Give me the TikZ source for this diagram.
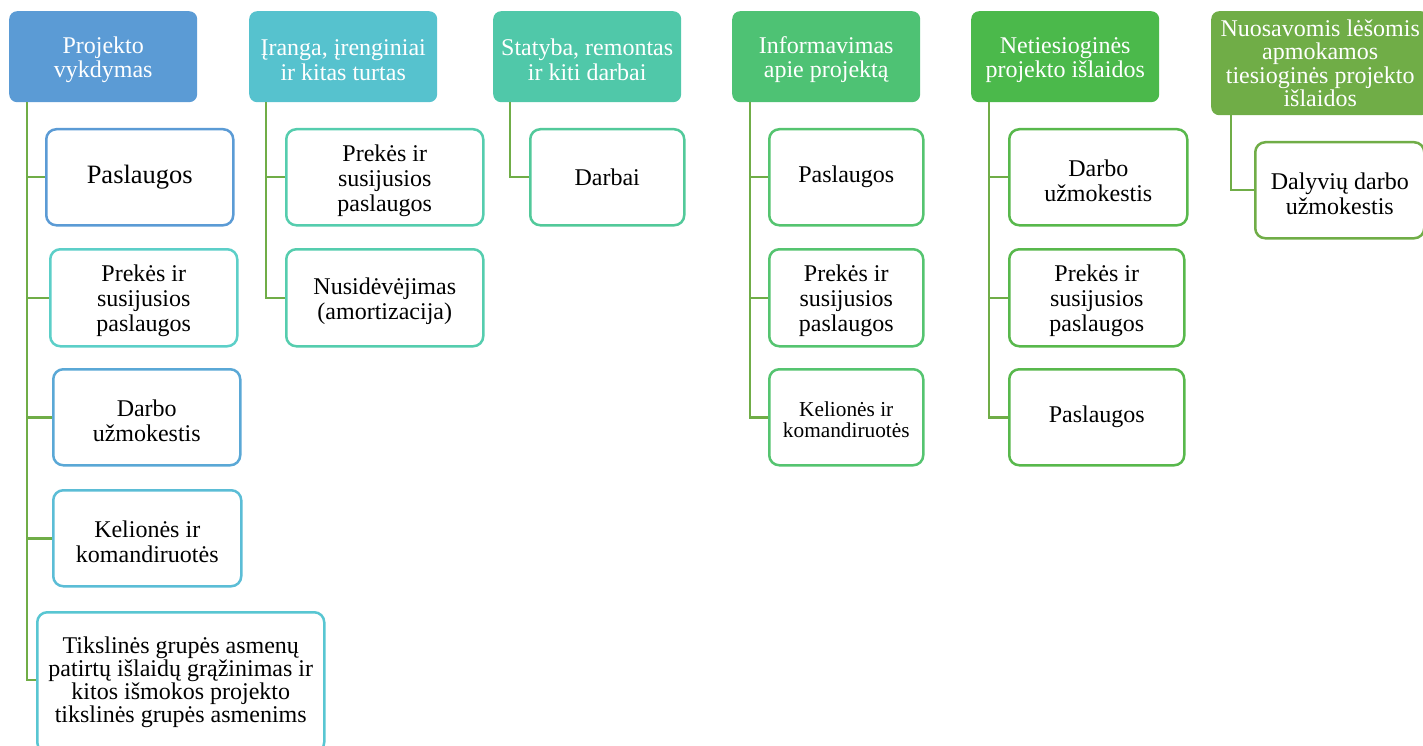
\documentclass[tikz,border=0pt]{standalone}
\usepackage{fontspec}
\setmainfont{Liberation Serif}
\definecolor{hblue}{HTML}{5B9BD5}
\definecolor{hcyan}{HTML}{56C2CE}
\definecolor{hsea}{HTML}{50C8A9}
\definecolor{hmint}{HTML}{4EC274}
\definecolor{hgreen}{HTML}{4BB94B}
\definecolor{holive}{HTML}{70AD47}
\definecolor{bteal}{HTML}{5CCFC8}
\definecolor{bsky}{HTML}{5AA8D6}
\definecolor{bazure}{HTML}{5BBDD6}
\definecolor{baqua}{HTML}{58C6D2}
\definecolor{bjade}{HTML}{55CDAE}
\definecolor{bsea}{HTML}{52C99A}
\definecolor{bmint}{HTML}{55C470}
\definecolor{bgreen}{HTML}{58B84C}
\definecolor{linkgreen}{HTML}{70AD47}
% a tall invisible strut on the first line sets multi-line text a little low in its box
\newcommand\lowstrut{\rule{0pt}{0.95em}}
\begin{document}
\begin{tikzpicture}[x=1pt,y=-1pt,
  hdr/.style={rectangle, rounded corners=8pt, fill=#1, text=white, inner sep=0pt,
    align=center, anchor=north west, minimum width=188pt, minimum height=91pt,
    font=\fontsize{24}{24.5}\selectfont},
  item/.style={rectangle, rounded corners=10pt, draw=#1, line width=2.5pt, fill=white,
    inner sep=0pt, align=center, anchor=north west, minimum height=96pt,
    font=\fontsize{24}{25}\selectfont},
  link/.style={draw=linkgreen, line width=2.5pt}]
\useasboundingbox (0,0) rectangle (1423,746);

% column headers
\node[hdr=hblue] (h1) at (9,11) {\lowstrut Projekto\\vykdymas};
\node[hdr=hcyan] (h2) at (249,11) {\lowstrut Įranga, įrenginiai\\ir kitas turtas};
\node[hdr=hsea] (h3) at (493,11) {\lowstrut Statyba, remontas\\ir kiti darbai};
\node[hdr=hmint] (h4) at (732,11) {\lowstrut Informavimas\\apie projektą};
\node[hdr=hgreen] (h5) at (971,11) {\lowstrut Netiesioginės\\projekto išlaidos};
\node[hdr=holive, minimum width=218pt, minimum height=104pt,
  font=\fontsize{24}{23.5}\selectfont] (h6) at (1211,11)
  {Nuosavomis lėšomis\\apmokamos\\tiesioginės projekto\\išlaidos};

% column 1
\node[item=hblue, minimum width=187pt, font=\fontsize{26.5}{27}\selectfont] (a1) at (45,128) {Paslaugos};
\node[item=bteal, minimum width=187pt, minimum height=97pt] (a2) at (49,248) {\lowstrut Prekės ir\\susijusios\\paslaugos};
\node[item=bsky, minimum width=187pt] (a3) at (52,368) {\lowstrut Darbo\\užmokestis};
\node[item=bazure, minimum width=188pt] (a4) at (52,489) {\lowstrut Kelionės ir\\komandiruotės};
\node[item=baqua, minimum width=287pt, minimum height=140pt,
  font=\fontsize{24}{23.3}\selectfont] (a5) at (36,611)
  {Tikslinės grupės asmenų\\patirtų išlaidų grąžinimas ir\\kitos išmokos projekto\\tikslinės grupės asmenims};

% column 2
\node[item=bjade, minimum width=197pt] (b1) at (285,128) {\lowstrut Prekės ir\\susijusios\\paslaugos};
\node[item=bjade, minimum width=197pt, minimum height=97pt] (b2) at (285,248) {\lowstrut Nusidėvėjimas\\(amortizacija)};

% column 3
\node[item=bsea, minimum width=154pt] (c1) at (529,128) {Darbai};

% column 4
\node[item=bmint, minimum width=154pt] (d1) at (768,128) {Paslaugos};
\node[item=bmint, minimum width=154pt, minimum height=97pt] (d2) at (768,248) {\lowstrut Prekės ir\\susijusios\\paslaugos};
\node[item=bmint, minimum width=154pt, font=\fontsize{21.3}{21}\selectfont] (d3) at (768,368) {\lowstrut Kelionės ir\\komandiruotės};

% column 5
\node[item=bgreen, minimum width=178pt] (e1) at (1008,128) {\lowstrut Darbo\\užmokestis};
\node[item=bgreen, minimum width=175pt, minimum height=97pt] (e2) at (1008,248) {\lowstrut Prekės ir\\susijusios\\paslaugos};
\node[item=bgreen, minimum width=175pt] (e3) at (1008,368) {Paslaugos};

% column 6
\node[item=holive, minimum width=169pt] (f1) at (1254,141) {\lowstrut Dalyvių darbo\\užmokestis};

% connectors: one trunk per column, elbowing into each box
\foreach \c in {a1,a2,a3,a4}
  \draw[link] ([xshift=18pt]h1.south west) |- (\c.west);
\draw[link] ([xshift=18pt]h1.south west) |- ([yshift=-69pt]a5.north west);
\foreach \c in {b1,b2}
  \draw[link] ([xshift=17pt]h2.south west) |- (\c.west);
\draw[link] ([xshift=17pt]h3.south west) |- (c1.west);
\foreach \c in {d1,d2,d3}
  \draw[link] ([xshift=18pt]h4.south west) |- (\c.west);
\foreach \c in {e1,e2,e3}
  \draw[link] ([xshift=18pt]h5.south west) |- (\c.west);
\draw[link] ([xshift=20pt]h6.south west) |- (f1.west);
\end{tikzpicture}
\end{document}
